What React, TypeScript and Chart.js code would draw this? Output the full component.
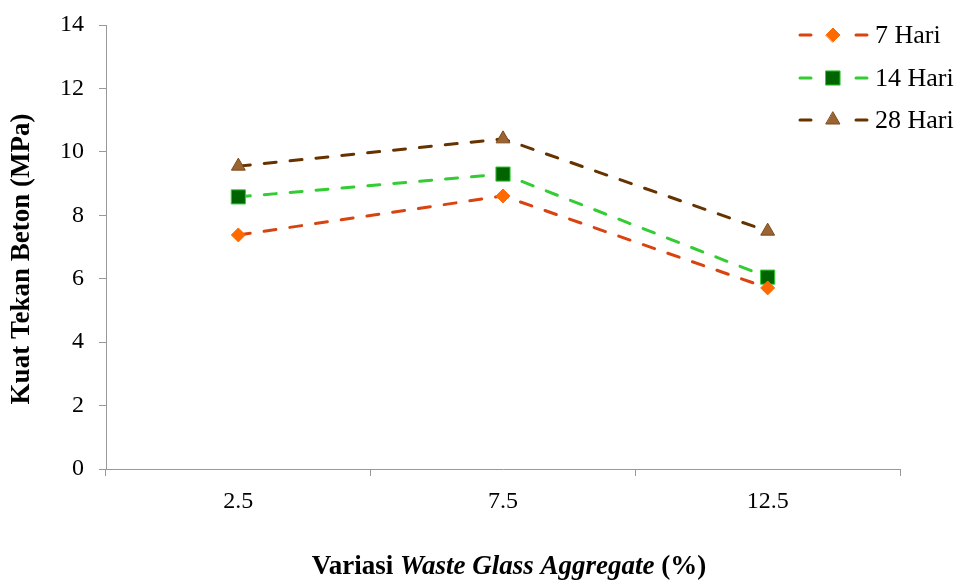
import React, { useEffect, useRef } from "react";
import { Chart, registerables } from "chart.js";
import { drawPoint } from "chart.js/helpers";

Chart.register(...registerables);

const categories = ["2.5", "7.5", "12.5"];
const seriesNames = ["7 Hari", "14 Hari", "28 Hari"];
const hari7 = [7.38, 8.61, 5.71];
const hari14 = [8.58, 9.3, 6.05];
const hari28 = [9.55, 10.41, 7.5];
const yTicks = [0, 2, 4, 6, 8, 10, 12, 14];

const FONT = "'Liberation Serif', 'Times New Roman', serif";

const styles = [
  { line: "#D8430F", fill: "#FF6A00", border: "#FF6A00", point: "rectRot", radius: 7 },
  { line: "#33CC33", fill: "#006400", border: "#33CC33", point: "rect", radius: 10 },
  { line: "#663300", fill: "#9C6431", border: "#7A4A1E", point: "triangle", radius: 8 },
];

const overlay = {
  id: "overlay",
  afterDraw(chart: any) {
    const ctx = chart.ctx as CanvasRenderingContext2D;
    ctx.save();
    ctx.fillStyle = "#000";
    // Y title
    ctx.font = `bold 27px ${FONT}`;
    ctx.textAlign = "center";
    ctx.textBaseline = "middle";
    ctx.save();
    ctx.translate(22, 259);
    ctx.rotate(-Math.PI / 2);
    ctx.fillText("Kuat Tekan Beton (MPa)", 0, 0);
    ctx.restore();
    // X title with mixed styles
    const parts = [
      { t: "Variasi ", f: `bold 27px ${FONT}` },
      { t: "Waste Glass Aggregate", f: `italic bold 27px ${FONT}` },
      { t: " (%)", f: `bold 27px ${FONT}` },
    ];
    let total = 0;
    for (const p of parts) {
      ctx.font = p.f;
      total += ctx.measureText(p.t).width;
    }
    let x = 509 - total / 2;
    ctx.textAlign = "left";
    for (const p of parts) {
      ctx.font = p.f;
      ctx.fillText(p.t, x, 567);
      x += ctx.measureText(p.t).width;
    }
    // Legend
    const ys = [35, 78, 120];
    chart.data.datasets.forEach((ds: any, i: number) => {
      const s = styles[i];
      const y = ys[i];
      ctx.strokeStyle = s.line;
      ctx.lineWidth = 3;
      ctx.lineCap = "round";
      ctx.setLineDash([]);
      ctx.beginPath();
      ctx.moveTo(800, y);
      ctx.lineTo(811, y);
      ctx.moveTo(856, y);
      ctx.lineTo(867, y);
      ctx.stroke();
      ctx.fillStyle = s.fill;
      ctx.strokeStyle = s.border;
      ctx.lineWidth = 1;
      drawPoint(ctx, { pointStyle: s.point, radius: s.radius, rotation: 0, borderWidth: 1 } as any, 833, y);
      ctx.fillStyle = "#000";
      ctx.font = `26px ${FONT}`;
      ctx.textAlign = "left";
      ctx.textBaseline = "middle";
      ctx.fillText(ds.label, 875, y + 1);
    });
    ctx.restore();
  },
};

export default function App() {
  const ref = useRef<HTMLCanvasElement>(null);
  useEffect(() => {
    if (!ref.current) return;
    const data = [hari7, hari14, hari28];
    const chart = new Chart(ref.current, {
      type: "line",
      data: {
        labels: categories,
        datasets: seriesNames.map((name, i) => ({
          label: name,
          data: data[i],
          borderColor: styles[i].line,
          borderWidth: 3,
          borderDash: [12, 14],
          borderCapStyle: "round",
          pointStyle: styles[i].point as any,
          pointRadius: styles[i].radius,
          pointBackgroundColor: styles[i].fill,
          pointBorderColor: styles[i].border,
          pointBorderWidth: 1,
          fill: false,
          tension: 0,
        })),
      },
      options: {
        animation: false,
        responsive: false,
        maintainAspectRatio: false,
        layout: { padding: { top: 25, right: 62, left: 0, bottom: 0 } },
        plugins: { legend: { display: false }, tooltip: { enabled: false } },
        scales: {
          x: {
            type: "category",
            offset: true,
            grid: { offset: true, drawOnChartArea: false, tickLength: 7, color: "#999999" },
            border: { color: "#999999", width: 1 },
            ticks: { color: "#000", font: { family: FONT, size: 24 }, padding: 11 },
            afterFit: (s: any) => {
              s.height = 113;
              s.paddingLeft = 0;
              s.paddingRight = 0;
            },
          },
          y: {
            min: 0,
            max: 14,
            afterBuildTicks: (s: any) => {
              s.ticks = yTicks.map((v) => ({ value: v }));
            },
            grid: { drawOnChartArea: false, tickLength: 7, color: "#999999" },
            border: { color: "#999999", width: 1 },
            ticks: { color: "#000", font: { family: FONT, size: 24 }, padding: 15 },
            afterFit: (s: any) => {
              s.width = 106;
              s.paddingTop = 0;
              s.paddingBottom = 0;
            },
          },
        },
      },
      plugins: [overlay],
    });
    return () => chart.destroy();
  }, []);
  return (
    <div style={{ position: "absolute", left: 0, top: 0, width: 962, height: 582 }}>
      <canvas ref={ref} width={962} height={582} style={{ width: 962, height: 582 }} />
    </div>
  );
}
